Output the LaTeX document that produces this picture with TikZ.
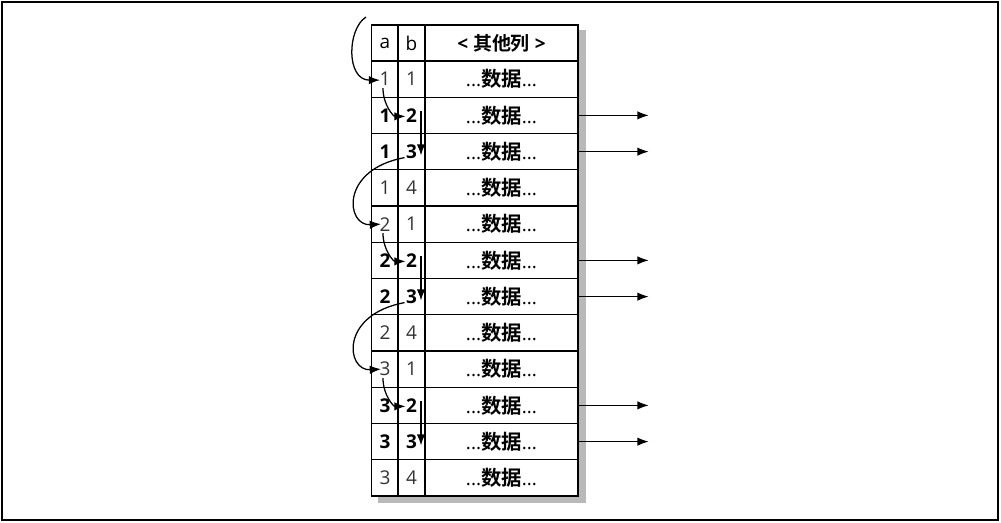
\documentclass[tikz,border=0pt]{standalone}
\usepackage{fontspec}
\setmainfont{Open Sans}
\newfontfamily\cjk{Noto Sans CJK SC}[BoldFont={Noto Sans CJK SC Bold}]
\usetikzlibrary{shapes, arrows.meta, positioning, calc}

\begin{document}
\begin{tikzpicture}[x=0.025cm, y=-0.025cm,
  cell/.style={draw, line width=0.9pt, minimum height=0.906cm, inner sep=0pt,
               font=\fontsize{13.5}{15}\selectfont},
  acol/.style={cell, minimum width=0.66cm},
  bcol/.style={cell, minimum width=0.675cm},
  dcol/.style={cell, minimum width=3.825cm, font=\fontsize{13.5}{15}\selectfont\bfseries},
  light/.style={text=black!80},
  heavy/.style={font=\fontsize{13.5}{15}\selectfont\bfseries},
  jump/.style={line width=0.9pt, -{Latex[length=8pt,width=6pt]}}]
  \useasboundingbox (0,0) rectangle (1001,522);
  \draw[line width=1pt] (2,2) rectangle (998,520);

  % shadow
  \fill[gray!55] (579,30) rectangle (586,503);
  \fill[gray!55] (378,497) rectangle (586,503);

  % header
  \node[acol] (ha) at (385,43) {a};
  \node[bcol] (hb) at (411.5,43) {b};
  \node[dcol] (hd) at (501.5,43) {<\ {\cjk 其他列}\ >};

  % rows
  \foreach \i/\a/\b/\w in {1/1/1/light, 2/1/2/heavy, 3/1/3/heavy, 4/1/4/light,
                           5/2/1/light, 6/2/2/heavy, 7/2/3/heavy, 8/2/4/light,
                           9/3/1/light, 10/3/2/heavy, 11/3/3/heavy, 12/3/4/light}{
    \pgfmathsetmacro\yy{61+(\i-0.5)*36.25}
    \node[acol,\w] (a\i) at (385,\yy) {\a};
    \node[bcol,\w] (b\i) at (411.5,\yy) {\b};
    \node[dcol] (d\i) at (501.5,\yy) {{\mdseries...}{\cjk\fontsize{14.5}{15}\selectfont 数据}{\mdseries...}};
  }

  % scan order
  \coordinate (top) at (366,17);
  \draw[jump] (top) .. controls +(-19,12) and +(-34,0) .. ($(a1.center)+(-5,1)$);
  \foreach \p/\q/\r in {1/2/3, 5/6/7, 9/10/11}{
    \draw[jump] ($(a\p.center)+(-2,9)$) .. controls +(0,17) and +(-12,0) .. ($(b\q.center)+(-6,1)$);
    \draw[jump, line width=1.2pt] ($(b\q.center)+(9.5,-4)$) -- ($(b\r.center)+(9.5,4)$);
  }
  \foreach \r/\n in {3/5, 7/9}{
    \draw[jump] ($(b\r.center)+(-7,6)$) .. controls +(-65,12) and +(-35,2) .. ($(a\n.center)+(-4,0)$);
  }

  % matches
  \foreach \i in {2,3,6,7,10,11}{
    \coordinate (out\i) at ($(d\i.east)+(70,0)$);
    \draw[jump] (d\i.east) -- (out\i);
  }
\end{tikzpicture}
\end{document}
